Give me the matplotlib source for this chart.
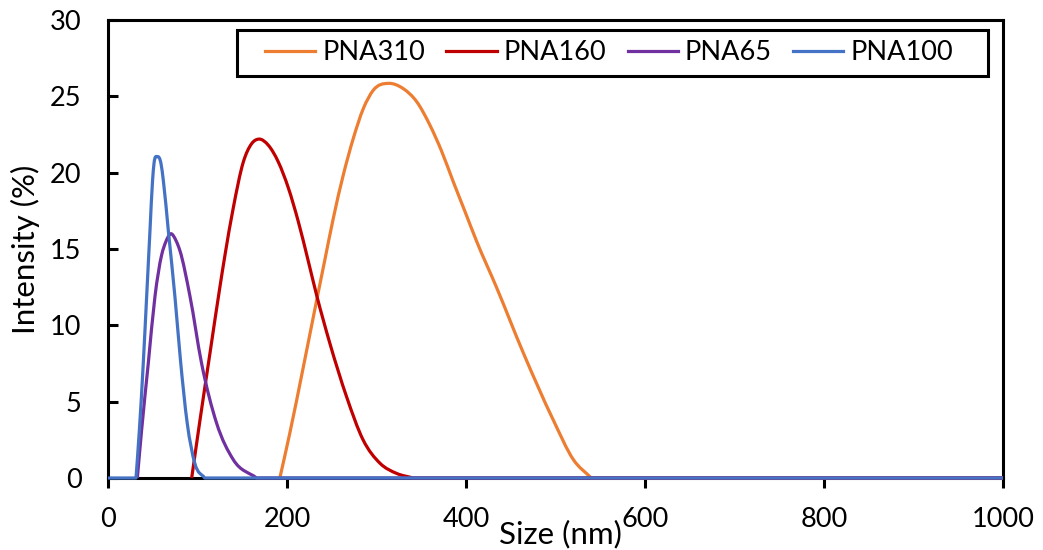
import numpy as np
import matplotlib
matplotlib.use("Agg")
import matplotlib.pyplot as plt
from matplotlib.path import Path
from matplotlib.patches import PathPatch, Rectangle
from matplotlib.lines import Line2D

# Intensity size distributions (size in nm, intensity in %)
pna310_size = [192, 203, 218, 233, 242.5, 251.7, 262.9, 274.1, 285.3, 296.4, 313.2, 330,
               344.9, 359.8, 372.8, 385.8, 398.9, 411.9, 434, 464, 497.5, 520, 540, 1000]
pna310_int = [0, 2.9, 7.2, 11.6, 14.35, 17.0, 19.85, 22.25, 24.2, 25.4, 25.85, 25.5,
              24.65, 23.1, 21.4, 19.4, 17.45, 15.5, 12.5, 8.2, 3.8, 1.2, 0, 0]

pna160_size = [93.5, 102.8, 114, 125, 130.7, 140, 151.2, 160.5, 169, 179.1, 190.3, 201.5,
               212.6, 223.8, 233, 248, 266.7, 285, 304, 322.5, 341, 1000]
pna160_int = [0, 3.8, 8.2, 12.5, 14.6, 17.7, 20.7, 21.9, 22.2, 21.8, 20.7, 19.0,
              16.8, 14.2, 12.0, 8.8, 5.3, 2.5, 0.96, 0.3, 0, 0]

pna65_size = [32.8, 37.5, 45, 52.5, 59.9, 64.8, 70, 76, 80.3, 91.6, 104.6, 121.3, 140, 166, 1000]
pna65_int = [0, 3.1, 7.5, 11.9, 14.6, 15.5, 16.0, 15.55, 14.9, 11.9, 7.5, 3.6, 1.2, 0, 0]

pna100_size = [0, 31.3, 35, 39.4, 43.2, 46.9, 49.8, 51.4, 55, 59.2, 61.8, 67.4, 74.9,
               81, 88.5, 97, 108, 1000]
pna100_int = [0, 0, 3.1, 7.5, 11.9, 16.2, 19.5, 20.6, 21.05, 20.6, 19.5, 16.2, 11.8,
              7.7, 3.6, 0.96, 0, 0]

series_names = ["PNA310", "PNA160", "PNA65", "PNA100"]
series_colors = ["#ED7D31", "#C00000", "#7030A0", "#4472C4"]

x_ticks = [0, 200, 400, 600, 800, 1000]
y_ticks = [0, 5, 10, 15, 20, 25, 30]

FONT = "Lato"
FS = 19.5
FS_TITLE = 22.5
LW = 2.3


def curve_slopes(x, y):
    """Three-point (parabolic) derivative estimates; one-sided at the ends."""
    h = np.diff(x)
    d = np.diff(y) / h
    m = np.empty(len(x))
    m[1:-1] = (h[:-1] * d[1:] + h[1:] * d[:-1]) / (h[:-1] + h[1:])
    m[0] = d[0]
    m[-1] = d[-1]
    return m


def smooth_path(xs, ys):
    """Smoothed Bezier path over the peak; flat zero baseline drawn straight."""
    x = np.asarray(xs, float)
    y = np.asarray(ys, float)
    nz = np.nonzero(y > 0)[0]
    i0, i1 = nz[0] - 1, nz[-1] + 1
    verts = [(x[0], y[0])]
    codes = [Path.MOVETO]
    for i in range(1, i0 + 1):
        verts.append((x[i], y[i]))
        codes.append(Path.LINETO)
    px, py = x[i0:i1 + 1], y[i0:i1 + 1]
    m = curve_slopes(px, py)
    for k in range(len(px) - 1):
        h = px[k + 1] - px[k]
        verts += [(px[k] + h / 3, max(py[k] + m[k] * h / 3, 0.0)),
                  (px[k + 1] - h / 3, max(py[k + 1] - m[k + 1] * h / 3, 0.0)),
                  (px[k + 1], py[k + 1])]
        codes += [Path.CURVE4] * 3
    for i in range(i1 + 1, len(x)):
        verts.append((x[i], y[i]))
        codes.append(Path.LINETO)
    return Path(np.array(verts), codes)


fig = plt.figure(figsize=(10.43, 5.5), dpi=100)
ax = fig.add_axes([108 / 1043, 72 / 550, 895 / 1043, 458 / 550])

data = [(pna310_size, pna310_int), (pna160_size, pna160_int),
        (pna65_size, pna65_int), (pna100_size, pna100_int)]
for (xs, ys), col in zip(data, series_colors):
    patch = PathPatch(smooth_path(xs, ys), facecolor="none", edgecolor=col,
                      linewidth=LW, transform=ax.transData, zorder=3,
                      clip_on=False, capstyle="butt", joinstyle="round")
    ax.add_patch(patch)

ax.set_xlim(0, 1000)
ax.set_ylim(0, 30)
ax.set_xticks(x_ticks)
ax.set_yticks(y_ticks)

for sp in ax.spines.values():
    sp.set_linewidth(2.2)
    sp.set_color("black")

ax.tick_params(axis="x", direction="out", length=7, width=2.2, pad=14,
               labelsize=FS, colors="black")
ax.tick_params(axis="y", direction="in", length=7, width=2.2, pad=19,
               labelsize=FS, colors="black")
for lab in ax.get_xticklabels() + ax.get_yticklabels():
    lab.set_fontfamily(FONT)

ax.set_ylabel("Intensity (%)", fontsize=FS_TITLE, fontfamily=FONT, va="center")
ax.yaxis.set_label_coords((25 - 108) / 895, 0.5)
ax.set_xlabel("Size (nm)", fontsize=FS_TITLE, fontfamily=FONT, va="center")
ax.xaxis.set_label_coords((560 - 108) / 895, (478 - 534) / 458)

# Legend box with a heavy black frame
bx0 = (237 - 108) / 895
bx1 = (988 - 108) / 895
by0 = (478 - 76) / 458
by1 = (478 - 30) / 458
ax.add_patch(Rectangle((bx0, by0), bx1 - bx0, by1 - by0, transform=ax.transAxes,
                       facecolor="white", edgecolor="black", linewidth=2.2,
                       zorder=5, clip_on=False))
handles = [Line2D([], [], color=c, linewidth=LW) for c in series_colors]
leg = ax.legend(handles, series_names, loc="center",
                bbox_to_anchor=((bx0 + bx1) / 2 - 0.004, (by0 + by1) / 2),
                bbox_transform=ax.transAxes, ncol=4, frameon=False,
                prop={"family": FONT, "size": FS}, handlelength=1.85,
                handletextpad=0.25, columnspacing=0.8, borderpad=0,
                borderaxespad=0)
leg.set_zorder(6)

fig.savefig("out.png", dpi=100, facecolor="white")
